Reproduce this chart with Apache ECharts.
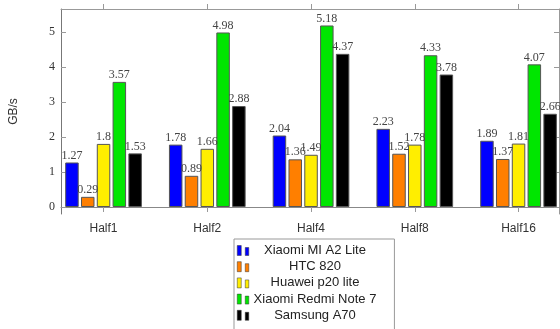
<!DOCTYPE html>
<html><head><meta charset="utf-8">
<script src="https://cdn.jsdelivr.net/npm/echarts@6/dist/echarts.min.js"></script>
<style>html,body{margin:0;padding:0;background:#fff}#c{width:560px;height:329px}</style>
</head><body><div id="c"></div>
<script>
const categories = ['Half1', 'Half2', 'Half4', 'Half8', 'Half16'];
const seriesNames = ['Xiaomi MI A2 Lite', 'HTC 820', 'Huawei p20 lite', 'Xiaomi Redmi Note 7', 'Samsung A70'];
const xiaomiA2 = [1.27, 1.78, 2.04, 2.23, 1.89];
const htc820 = [0.29, 0.89, 1.36, 1.52, 1.37];
const huaweiP20 = [1.8, 1.66, 1.49, 1.78, 1.81];
const redmiNote7 = [3.57, 4.98, 5.18, 4.33, 4.07];
const samsungA70 = [1.53, 2.88, 4.37, 3.78, 2.66];
const yTicks = [0, 1, 2, 3, 4, 5];
const colors = ['#0000ff', '#ff7f00', '#ffee00', '#00e600', '#000000'];

const allValues = [xiaomiA2, htc820, huaweiP20, redmiNote7, samsungA70];
const catIdx = categories.map((c, i) => i);

const chart = echarts.init(document.getElementById('c'), null, {renderer: 'canvas'});
const serif = 'Liberation Serif';
const sans = 'Liberation Sans';

const series = allValues.map((vals, s) => ({
  name: seriesNames[s],
  type: 'bar',
  xAxisIndex: 0, yAxisIndex: 0,
  barWidth: 13.5,
  barGap: '17%',
  data: vals.map((v, i) => [i, v]),
  itemStyle: {color: colors[s], borderColor: '#555', borderWidth: 1},
  label: {show: true, position: 'top', distance: 1, fontFamily: serif, fontSize: 12, color: '#444',
    formatter: p => String(p.value[1])},
  emphasis: {disabled: true}
}));

chart.setOption({
  animation: false,
  grid: {left: 58, right: 1, top: 9, bottom: 115, containLabel: false},
  xAxis: [
    {type: 'value', position: 'bottom', min: -0.41, max: 4.39,
      axisLine: {show: true, lineStyle: {color: '#888'}},
      axisTick: {show: true, inside: false, length: 5, customValues: catIdx, lineStyle: {color: '#999'}},
      axisLabel: {show: true, customValues: catIdx, formatter: v => categories[Math.round(v)] || '',
        fontFamily: sans, fontSize: 12, color: '#333', margin: 9},
      splitLine: {show: false}},
    {type: 'value', position: 'top', min: -0.41, max: 4.39,
      axisLine: {show: true, onZero: false, lineStyle: {color: '#999'}},
      axisTick: {show: true, inside: false, length: 5, customValues: catIdx, lineStyle: {color: '#999'}},
      axisLabel: {show: false},
      splitLine: {show: false}}
  ],
  yAxis: [
    {type: 'value', position: 'left', min: -0.2, max: 5.65,
      name: 'GB/s', nameLocation: 'middle', nameGap: 41, nameRotate: 90,
      nameTextStyle: {fontFamily: sans, fontSize: 12, color: '#333'},
      axisLine: {show: true, onZero: false, lineStyle: {color: '#777'}},
      axisTick: {show: true, inside: true, length: 5, customValues: yTicks, lineStyle: {color: '#999'}},
      axisLabel: {show: true, customValues: yTicks, fontFamily: serif, fontSize: 12, color: '#333', margin: 6},
      splitLine: {show: false}},
    {type: 'value', position: 'right', min: -0.2, max: 5.65,
      axisLine: {show: true, onZero: false, lineStyle: {color: '#999'}},
      axisTick: {show: true, inside: true, length: 5, customValues: yTicks, lineStyle: {color: '#999'}},
      axisLabel: {show: false},
      splitLine: {show: false}}
  ],
  legend: {
    orient: 'vertical', left: 234, top: 239,
    width: 170, height: 120,
    padding: [5, 18, 8, 3],
    borderColor: '#999', borderWidth: 1,
    itemWidth: 12, itemHeight: 10, itemGap: 3.2,
    icon: 'path://M0,0h4v10h-4z M8,2h3.5v8h-3.5z',
    data: seriesNames,
    itemStyle: {borderColor: '#333', borderWidth: 0.5},
    formatter: n => '{t|' + n + '}',
    textStyle: {lineHeight: 13, fontSize: 13, fontFamily: sans,
      rich: {t: {width: 122, lineHeight: 13, align: 'center', fontFamily: sans, fontSize: 13, color: '#222'}}}
  },
  series: series
});
</script></body></html>
